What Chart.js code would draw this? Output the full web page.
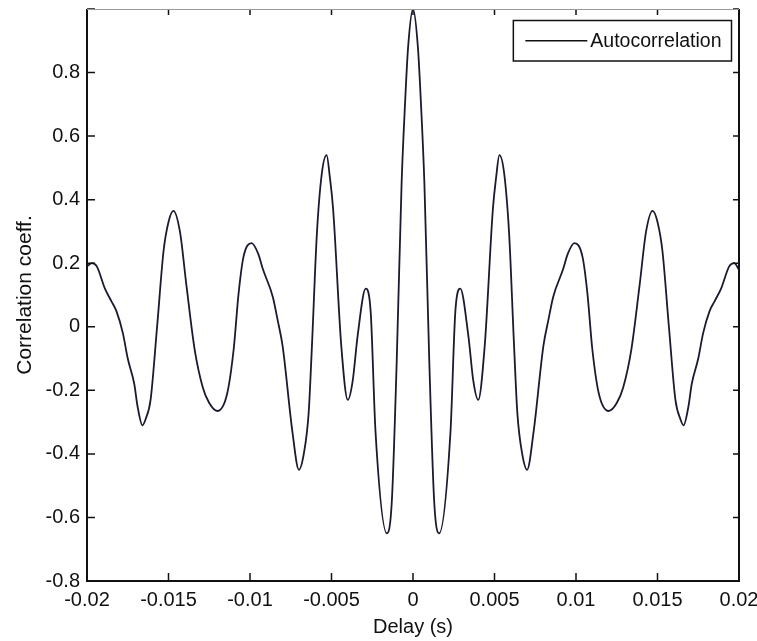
<!DOCTYPE html>
<html>
<head>
<meta charset="utf-8">
<script src="https://cdn.jsdelivr.net/npm/chart.js@4.4.1/dist/chart.umd.min.js"></script>
<style>
html, body { margin: 0; padding: 0; background: #fff; }
#c { display: block; }
</style>
</head>
<body>
<canvas id="c" width="757" height="641"></canvas>
<script>
// delay in seconds
const delay = [
  -0.0200, -0.0197, -0.0194, -0.0189, -0.0185, -0.0182, -0.0178, -0.0175, -0.0171, -0.0169,
  -0.0166, -0.0164, -0.0161, -0.0157, -0.0153, -0.0150, -0.0147, -0.0143, -0.0139, -0.0134,
  -0.0129, -0.0125, -0.0120, -0.0114, -0.0110, -0.0107, -0.0104, -0.0099, -0.0095, -0.0092,
  -0.0086, -0.0083, -0.0080, -0.0074, -0.0070, -0.0067, -0.0064, -0.0062, -0.0059, -0.0056,
  -0.0053, -0.0051, -0.0049, -0.0044, -0.0040, -0.0037, -0.0034, -0.0029, -0.0026, -0.0023,
  -0.0016, -0.0013, -0.0010, -0.0007, -0.0005, -0.0003, 0,
  0.0003, 0.0005, 0.0007, 0.0010, 0.0013, 0.0016, 0.0023, 0.0026, 0.0029, 0.0034,
  0.0037, 0.0040, 0.0044, 0.0049, 0.0051, 0.0053, 0.0056, 0.0059, 0.0062, 0.0064,
  0.0067, 0.0070, 0.0074, 0.0080, 0.0083, 0.0086, 0.0092, 0.0095, 0.0099, 0.0104,
  0.0107, 0.0110, 0.0114, 0.0120, 0.0125, 0.0129, 0.0134, 0.0139, 0.0143, 0.0147,
  0.0150, 0.0153, 0.0157, 0.0161, 0.0164, 0.0166, 0.0169, 0.0171, 0.0175, 0.0178,
  0.0182, 0.0185, 0.0189, 0.0194, 0.0197, 0.0200
];
const corr = [
  0.19, 0.20, 0.19, 0.12, 0.08, 0.05, -0.02, -0.10, -0.18, -0.25,
  -0.31, -0.29, -0.23, 0.00, 0.24, 0.33, 0.365, 0.30, 0.13, -0.07,
  -0.19, -0.24, -0.265, -0.21, -0.07, 0.105, 0.22, 0.263, 0.23, 0.18,
  0.094, 0.02, -0.06, -0.33, -0.45, -0.40, -0.27, -0.06, 0.29, 0.48,
  0.54, 0.47, 0.37, -0.06, -0.23, -0.17, -0.03, 0.12, 0.05, -0.33,
  -0.65, -0.55, -0.11, 0.45, 0.69, 0.88, 1.0,
  0.88, 0.69, 0.45, -0.11, -0.55, -0.65, -0.33, 0.05, 0.12, -0.03,
  -0.17, -0.23, -0.06, 0.37, 0.47, 0.54, 0.48, 0.29, -0.06, -0.27,
  -0.40, -0.45, -0.33, -0.06, 0.02, 0.094, 0.18, 0.23, 0.263, 0.22,
  0.105, -0.07, -0.21, -0.265, -0.24, -0.19, -0.07, 0.13, 0.30, 0.365,
  0.33, 0.24, 0.00, -0.23, -0.29, -0.31, -0.25, -0.18, -0.10, -0.02,
  0.05, 0.08, 0.12, 0.19, 0.20, 0.18
];
const seriesLabel = 'Autocorrelation';

const xTickValues = [-0.02, -0.015, -0.01, -0.005, 0, 0.005, 0.01, 0.015, 0.02];
const xTickLabels = ['-0.02', '-0.015', '-0.01', '-0.005', '0', '0.005', '0.01', '0.015', '0.02'];
const yTickValues = [-0.8, -0.6, -0.4, -0.2, 0, 0.2, 0.4, 0.6, 0.8, 1];
const yTickLabels = ['-0.8', '-0.6', '-0.4', '-0.2', '0', '0.2', '0.4', '0.6', '0.8', ''];

const FONT = "'Liberation Sans', Arial, sans-serif";
const INK = '#111';

// matlab-ish box, inward ticks on all four sides, legend in the corner
const boxPlugin = {
  id: 'box',
  afterDraw(chart) {
    const { ctx, chartArea: a, scales: { x, y } } = chart;
    ctx.save();
    ctx.strokeStyle = INK;
    ctx.lineWidth = 1.5;
    ctx.beginPath();
    xTickValues.forEach(v => {
      const px = x.getPixelForValue(v);
      ctx.moveTo(px, a.bottom); ctx.lineTo(px, a.bottom - 8);
      ctx.moveTo(px, a.top); ctx.lineTo(px, a.top + 6);
    });
    yTickValues.forEach(v => {
      const py = y.getPixelForValue(v);
      ctx.moveTo(a.left, py); ctx.lineTo(a.left + 8, py);
      ctx.moveTo(a.right, py); ctx.lineTo(a.right - 6, py);
    });
    ctx.stroke();

    ctx.lineWidth = 2;
    ctx.beginPath();
    ctx.moveTo(a.left, a.top); ctx.lineTo(a.left, a.bottom);
    ctx.lineTo(a.right, a.bottom); ctx.lineTo(a.right, a.top);
    ctx.stroke();
    ctx.strokeStyle = '#999';
    ctx.lineWidth = 1;
    ctx.beginPath();
    ctx.moveTo(a.left, a.top + 0.5); ctx.lineTo(a.right, a.top + 0.5);
    ctx.stroke();

    // legend
    ctx.font = '19.5px ' + FONT;
    const tw = ctx.measureText(seriesLabel).width;
    const bx1 = a.right - 7.5, by0 = a.top + 11.5, by1 = a.top + 52;
    const bx0 = bx1 - (tw + 77 + 10);
    ctx.fillStyle = '#fff';
    ctx.fillRect(bx0, by0, bx1 - bx0, by1 - by0);
    ctx.strokeStyle = INK;
    ctx.lineWidth = 1.5;
    ctx.strokeRect(bx0, by0, bx1 - bx0, by1 - by0);
    const my = (by0 + by1) / 2;
    ctx.beginPath();
    ctx.moveTo(bx0 + 12, my); ctx.lineTo(bx0 + 74, my);
    ctx.stroke();
    ctx.fillStyle = INK;
    ctx.textBaseline = 'middle';
    ctx.textAlign = 'left';
    ctx.fillText(seriesLabel, bx0 + 77, my + 1);
    ctx.restore();
  }
};

new Chart(document.getElementById('c'), {
  type: 'line',
  data: {
    datasets: [{
      label: seriesLabel,
      data: delay.map((d, i) => ({ x: d, y: corr[i] })),
      borderColor: '#1a1a30',
      borderWidth: 1.8,
      pointRadius: 0,
      cubicInterpolationMode: 'monotone',
      fill: false
    }]
  },
  options: {
    responsive: false,
    animation: false,
    devicePixelRatio: 1,
    layout: { padding: { top: 9, right: 18, left: 0, bottom: 0 } },
    plugins: { legend: { display: false }, tooltip: { enabled: false } },
    scales: {
      x: {
        type: 'linear',
        min: -0.02, max: 0.02,
        afterBuildTicks: s => { s.ticks = xTickValues.map(v => ({ value: v })); },
        afterFit: s => { s.height = 60; s.paddingLeft = 0; s.paddingRight = 0; },
        grid: { display: false, drawTicks: false },
        border: { display: false },
        ticks: {
          padding: 7,
          color: INK,
          font: { family: FONT, size: 20 },
          maxRotation: 0,
          autoSkip: false,
          callback: (v, i) => xTickLabels[i]
        },
        title: {
          display: true,
          text: 'Delay (s)',
          color: INK,
          font: { family: FONT, size: 20, lineHeight: 1 },
          padding: { top: 0, bottom: 4 }
        }
      },
      y: {
        min: -0.8, max: 1,
        afterBuildTicks: s => { s.ticks = yTickValues.map(v => ({ value: v })); },
        afterFit: s => { s.width = 87; s.paddingTop = 0; s.paddingBottom = 0; },
        grid: { display: false, drawTicks: false },
        border: { display: false },
        ticks: {
          padding: 7,
          color: INK,
          font: { family: FONT, size: 20 },
          autoSkip: false,
          callback: (v, i) => yTickLabels[i]
        },
        title: {
          display: true,
          text: 'Correlation coeff.',
          color: INK,
          font: { family: FONT, size: 21, lineHeight: 1 },
          padding: { top: 14.5, bottom: 0 }
        }
      }
    }
  },
  plugins: [boxPlugin]
});
</script>
</body>
</html>
